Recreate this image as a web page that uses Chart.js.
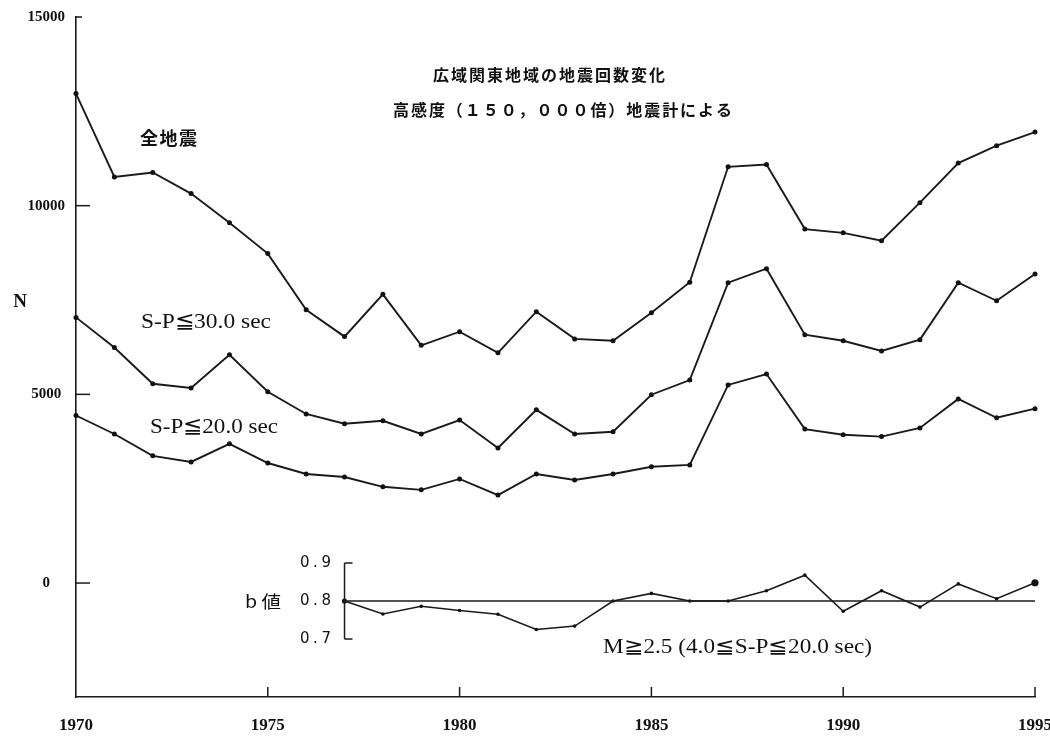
<!DOCTYPE html>
<html>
<head>
<meta charset="utf-8">
<script src="https://cdn.jsdelivr.net/npm/chart.js@4.4.1/dist/chart.umd.min.js"></script>
<style>
html,body{margin:0;padding:0;background:#fff;}
canvas{display:block;}
</style>
</head>
<body>
<canvas id="c" width="1050" height="738"></canvas>
<script>
// ---- data ----
const years = [1970,1971,1972,1973,1974,1975,1976,1977,1978,1979,1980,1981,1982,1983,1984,1985,1986,1987,1988,1989,1990,1991,1992,1993,1994,1995];
const allQuakes = [12970,10760,10880,10320,9550,8730,7240,6530,7650,6300,6660,6100,7190,6470,6420,7160,7970,11030,11090,9380,9280,9070,10080,11130,11590,11950];
const sp30 = [7040,6240,5280,5170,6050,5070,4480,4220,4300,3950,4320,3580,4590,3950,4010,4990,5380,7960,8330,6580,6420,6150,6450,7960,7480,8190];
const sp20 = [4440,3950,3370,3210,3690,3180,2890,2810,2550,2470,2760,2330,2890,2730,2890,3080,3130,5250,5540,4080,3930,3880,4110,4880,4380,4620];
const bYears = [1977,1978,1979,1980,1981,1982,1983,1984,1985,1986,1987,1988,1989,1990,1991,1992,1993,1994,1995];
const bValues = [0.800,0.766,0.786,0.775,0.765,0.725,0.734,0.800,0.820,0.800,0.800,0.827,0.868,0.773,0.827,0.784,0.845,0.806,0.848];
const bRefValue = 0.8;
const yTickValues = [0,5000,10000,15000];
const xTickValues = [1970,1975,1980,1985,1990,1995];
const bTickValues = [0.9,0.8,0.7];
const bTickLabels = ['0.9','0.8','0.7'];

const titleLine1 = '広域関東地域の地震回数変化';
const titleLine2 = '高感度（１５０，０００倍）地震計による';
const labelAll = '全地震';
const labelSP30 = 'S-P≦30.0 sec';
const labelSP20 = 'S-P≦20.0 sec';
const labelB = 'b 値';
const labelBnote = 'M≧2.5 (4.0≦S-P≦20.0 sec)';
const labelN = 'N';

// ---- helpers ----
const INK = '#1a1a1a';
function pts(xs, ys){ return xs.map((v,i)=>({x:v, y:ys[i]})); }
function drawTracked(ctx, text, left, y, width){
  const chars = Array.from(text);
  const ws = chars.map(c=>ctx.measureText(c).width);
  const sum = ws.reduce((a,b)=>a+b,0);
  const sp = chars.length>1 ? (width - sum)/(chars.length-1) : 0;
  let x = left;
  ctx.textAlign = 'left';
  chars.forEach((c,i)=>{ ctx.fillText(c, x, y); x += ws[i] + sp; });
}
function drawFit(ctx, text, left, y, width){
  const w = ctx.measureText(text).width;
  ctx.save();
  ctx.translate(left, y);
  ctx.scale(width / w, 1);
  ctx.textAlign = 'left';
  ctx.fillText(text, 0, 0);
  ctx.restore();
}
function line(ctx, x1, y1, x2, y2){ ctx.beginPath(); ctx.moveTo(x1,y1); ctx.lineTo(x2,y2); ctx.stroke(); }

const decor = {
  id: 'decor',
  afterDraw(chart){
    const {ctx} = chart;
    const {x, y, y2} = chart.scales;
    ctx.save();
    ctx.strokeStyle = INK;
    ctx.fillStyle = '#111';
    ctx.lineWidth = 1.5;
    // inward ticks on the main y axis
    yTickValues.forEach(v=>{
      const py = y.getPixelForValue(v);
      line(ctx, x.left, py, x.left + (v === 15000 ? 6 : 14), py);
    });
    // inward ticks on the x axis
    xTickValues.slice(1).forEach(v=>{
      const px = x.getPixelForValue(v);
      line(ctx, px, y.bottom, px, y.bottom - 10);
    });
    // inset b-value axis
    const ix = x.getPixelForValue(bYears[0]);
    const pTop = y2.getPixelForValue(bTickValues[0]);
    const pBot = y2.getPixelForValue(bTickValues[2]);
    line(ctx, ix, pTop, ix, pBot);
    line(ctx, ix, pTop, ix + 8, pTop);
    line(ctx, ix, pBot, ix + 8, pBot);
    ctx.textBaseline = 'middle';
    ctx.font = '15px "DejaVu Sans"';
    bTickValues.forEach((v,i)=>{
      drawTracked(ctx, bTickLabels[i], 300, y2.getPixelForValue(v), 31);
    });
    // text labels
    ctx.font = 'bold 16px "Noto Sans CJK JP"';
    drawTracked(ctx, titleLine1, 433, 75, 232);
    drawTracked(ctx, titleLine2, 393, 110, 339);
    ctx.font = 'bold 18px "Noto Sans CJK JP"';
    drawTracked(ctx, labelAll, 140, 138, 57);
    ctx.font = '17px "Noto Sans CJK JP"';
    drawFit(ctx, labelB, 245, 602, 36);
    ctx.textBaseline = 'alphabetic';
    ctx.font = '22px "Liberation Serif"';
    drawFit(ctx, labelSP30, 141, 328, 130);
    drawFit(ctx, labelSP20, 150, 433, 128);
    ctx.font = '20px "Liberation Serif"';
    drawFit(ctx, labelBnote, 603, 653, 269);
    ctx.font = 'bold 19px "Liberation Serif"';
    ctx.textAlign = 'center';
    ctx.textBaseline = 'middle';
    ctx.fillText(labelN, 20, 302);
    ctx.restore();
  }
};

function seriesStyle(extra){
  return Object.assign({
    borderColor: INK, backgroundColor: INK, borderWidth: 1.9,
    pointRadius: 2.5, pointBorderWidth: 0, pointBackgroundColor: '#111',
    tension: 0, clip: false, yAxisID: 'y'
  }, extra || {});
}

const bRadii = bValues.map((v,i)=> i === bValues.length-1 ? 3.6 : (i === 0 ? 2.6 : 1.8));

new Chart(document.getElementById('c'), {
  type: 'line',
  data: {
    datasets: [
      seriesStyle({label: labelAll, data: pts(years, allQuakes)}),
      seriesStyle({label: labelSP30, data: pts(years, sp30)}),
      seriesStyle({label: labelSP20, data: pts(years, sp20)}),
      seriesStyle({label: 'b ref', data: pts([bYears[0], bYears[bYears.length-1]], [bRefValue, bRefValue]), yAxisID: 'y2', pointRadius: 0, borderWidth: 1.5}),
      seriesStyle({label: labelB, data: pts(bYears, bValues), yAxisID: 'y2', pointRadius: bRadii, borderWidth: 1.6})
    ]
  },
  options: {
    responsive: false,
    animation: false,
    devicePixelRatio: 1,
    layout: {padding: {top: 17, right: 15, left: 0, bottom: 0}},
    plugins: {legend: {display: false}, tooltip: {enabled: false}, title: {display: false}},
    events: [],
    scales: {
      x: {
        type: 'linear', position: 'bottom', min: 1970, max: 1995,
        afterBuildTicks: s => { s.ticks = xTickValues.map(v=>({value: v})); },
        afterFit: s => { s.height = 41; s.paddingLeft = 0; s.paddingRight = 0; },
        grid: {display: false, drawTicks: false, tickLength: 0},
        border: {display: true, color: INK, width: 1.6},
        ticks: {
          autoSkip: false, maxRotation: 0, padding: 18, color: '#111',
          font: {family: '"Liberation Serif"', size: 17, weight: 'bold'},
          callback: v => String(v)
        }
      },
      y: {
        type: 'linear', position: 'left', min: -3020, max: 15000,
        afterBuildTicks: s => { s.ticks = yTickValues.map(v=>({value: v})); },
        afterFit: s => { s.width = 76; s.paddingTop = 0; s.paddingBottom = 0; },
        grid: {display: false, drawTicks: false, tickLength: 0},
        border: {display: true, color: INK, width: 1.6},
        ticks: {
          autoSkip: false, padding: 11, crossAlign: 'center', color: '#111',
          font: {family: '"Liberation Serif"', size: 15, weight: 'bold'},
          callback: v => String(v)
        }
      },
      y2: {
        type: 'linear', position: 'right', display: false, min: 0.5474, max: 2.3368
      }
    }
  },
  plugins: [decor]
});
</script>
</body>
</html>
